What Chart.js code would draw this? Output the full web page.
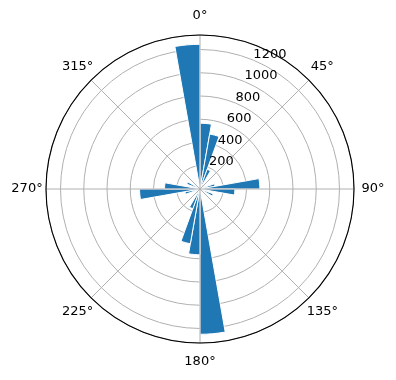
<!DOCTYPE html>
<html>
<head>
<meta charset="utf-8">
<script src="https://cdn.jsdelivr.net/npm/chart.js@4/dist/chart.umd.min.js"></script>
<style>
  html, body { margin: 0; padding: 0; background: #fff; }
  canvas { display: block; }
</style>
</head>
<body>
<canvas id="c" width="396" height="380"></canvas>
<script>
// Direction bins (10° each, clockwise from north)
const binLabels = ['0-10°','10-20°','20-30°','30-40°','40-50°','50-60°','60-70°','70-80°','80-90°',
  '90-100°','100-110°','110-120°','120-130°','130-140°','140-150°','150-160°','160-170°','170-180°',
  '180-190°','190-200°','200-210°','210-220°','220-230°','230-240°','240-250°','250-260°','260-270°',
  '270-280°','280-290°','290-300°','300-310°','310-320°','320-330°','330-340°','340-350°','350-360°'];
// Counts per bin
const counts = [566, 480, 180, 40, 0, 0, 50, 130, 515,
  300, 0, 120, 0, 0, 0, 0, 0, 1250,
  566, 478, 180, 40, 0, 0, 50, 130, 520,
  305, 0, 120, 0, 0, 0, 0, 0, 1245];
// Radial tick labels
const radialTicks = [200, 400, 600, 800, 1000, 1200];
const radialMax = 1325;
// Angular tick labels (degrees)
const angleTicks = [0, 45, 90, 135, 180, 225, 270, 315];
const angleTickLabels = ['0°', '45°', '90°', '135°', '180°', '225°', '270°', '315°'];

const FONT = '13px "DejaVu Sans"';

const overlay = {
  id: 'overlay',
  afterDraw(chart) {
    const s = chart.scales.r;
    const ctx = chart.ctx;
    const cx = s.xCenter, cy = s.yCenter;
    const R = s.getDistanceFromCenterForValue(s.max);
    ctx.save();
    ctx.strokeStyle = '#b0b0b0';
    ctx.lineWidth = 1;
    angleTicks.forEach(a => {
      const t = (a - 90) * Math.PI / 180;
      ctx.beginPath();
      ctx.moveTo(cx, cy);
      ctx.lineTo(cx + R * Math.cos(t), cy + R * Math.sin(t));
      ctx.stroke();
    });
    ctx.strokeStyle = '#000';
    ctx.lineWidth = 1.1;
    ctx.beginPath();
    ctx.arc(cx, cy, R, 0, 2 * Math.PI);
    ctx.stroke();

    ctx.fillStyle = '#000';
    ctx.font = FONT;
    ctx.textAlign = 'center';
    ctx.textBaseline = 'middle';
    angleTicks.forEach((a, i) => {
      const t = (a - 90) * Math.PI / 180;
      const rr = R + 19;
      ctx.fillText(angleTickLabels[i], cx + rr * Math.cos(t), cy + rr * Math.sin(t));
    });

    ctx.textAlign = 'left';
    ctx.textBaseline = 'bottom';
    const ra = (22.5 - 90) * Math.PI / 180;
    radialTicks.forEach(v => {
      const d = s.getDistanceFromCenterForValue(v);
      ctx.fillText(String(v), cx + d * Math.cos(ra), cy + d * Math.sin(ra) + 1);
    });
    ctx.restore();
  }
};

new Chart(document.getElementById('c'), {
  type: 'polarArea',
  data: {
    labels: binLabels,
    datasets: [{
      data: counts,
      backgroundColor: '#1f77b4',
      borderColor: '#ffffff',
      borderWidth: 1
    }]
  },
  options: {
    responsive: false,
    devicePixelRatio: 1,
    animation: false,
    layout: { padding: { left: 46, right: 42, top: 35, bottom: 37 } },
    plugins: { legend: { display: false }, tooltip: { enabled: false } },
    scales: {
      r: {
        z: 1,
        min: 0,
        max: radialMax,
        startAngle: 0,
        ticks: { display: false, stepSize: 200 },
        grid: { color: '#b0b0b0', lineWidth: 1, circular: true },
        angleLines: { display: false },
        pointLabels: { display: false }
      }
    }
  },
  plugins: [overlay]
});
</script>
</body>
</html>
